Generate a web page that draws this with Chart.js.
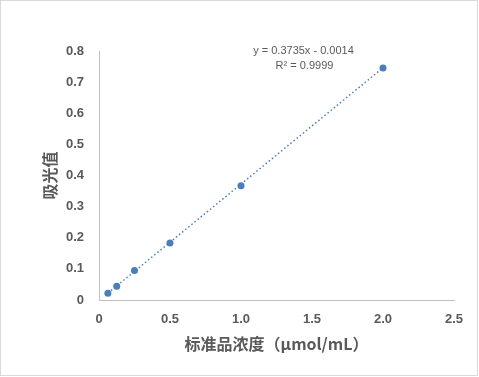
<!DOCTYPE html>
<html>
<head>
<meta charset="utf-8">
<script src="https://cdn.jsdelivr.net/npm/chart.js@4/dist/chart.umd.min.js"></script>
<style>
  html, body { margin: 0; padding: 0; background: #fff; }
  #wrap { width: 479px; height: 377px; position: relative; }
</style>
</head>
<body>
<div id="wrap"><canvas id="c" width="479" height="377"></canvas></div>
<script>
// Data
const concentrations = [0.0625, 0.125, 0.25, 0.5, 1, 2];
const absorbances = [0.022, 0.044, 0.095, 0.183, 0.367, 0.745];
const trendX = [0.0625, 2];
const trendY = [0.022, 0.746];
const equationText = ['y = 0.3735x - 0.0014', 'R² = 0.9999'];
const xTitle = '标准品浓度（μmol/mL）';
const yTitle = '吸光值';

const points = concentrations.map((x, i) => ({ x: x, y: absorbances[i] }));
const trend = trendX.map((x, i) => ({ x: x, y: trendY[i] }));

const textColor = '#595959';
const axisColor = '#bfbfbf';
const blue = '#4a7ebb';

const extras = {
  id: 'extras',
  afterDraw(chart) {
    const ctx = chart.ctx;
    ctx.save();
    ctx.strokeStyle = '#d9d9d9';
    ctx.lineWidth = 1;
    ctx.strokeRect(0.5, 0.5, 477, 375);
    // trendline equation label
    const xs = chart.scales.x, ys = chart.scales.y;
    const cx = xs.getPixelForValue(1.44);
    const cy = ys.getPixelForValue(0.8);
    ctx.fillStyle = textColor;
    ctx.font = '11px "Liberation Sans", Arial, sans-serif';
    ctx.textAlign = 'center';
    ctx.textBaseline = 'middle';
    ctx.fillText(equationText[0], cx, cy);
    ctx.fillText(equationText[1], cx + 1, cy + 15);
    ctx.restore();
  }
};

new Chart(document.getElementById('c'), {
  type: 'scatter',
  data: {
    datasets: [
      {
        label: 'trend',
        type: 'line',
        data: trend,
        borderColor: blue,
        borderWidth: 1.5,
        borderDash: [1.5, 2.5],
        pointRadius: 0,
        fill: false,
        order: 2
      },
      {
        label: 'data',
        data: points,
        backgroundColor: blue,
        borderColor: blue,
        pointRadius: 3.5,
        pointBorderWidth: 0,
        order: 1
      }
    ]
  },
  options: {
    responsive: false,
    animation: false,
    devicePixelRatio: 1,
    layout: { padding: { left: 0, top: 51, right: 25, bottom: 0 } },
    plugins: { legend: { display: false }, tooltip: { enabled: false } },
    scales: {
      x: {
        type: 'linear',
        min: 0, max: 2.5,
        ticks: {
          stepSize: 0.5,
          color: textColor,
          padding: 12,
          maxRotation: 0,
          font: { family: '"Liberation Sans", Arial, sans-serif', size: 13, weight: 'bold' }
        },
        grid: { display: false, drawTicks: false },
        border: { display: true, color: axisColor, width: 1 },
        title: {
          display: true,
          text: xTitle,
          color: textColor,
          padding: { top: 0, bottom: 23 },
          font: { family: '"Noto Sans CJK SC", sans-serif', size: 16, weight: 'bold' }
        },
        afterFit(scale) { scale.height = 77; }
      },
      y: {
        type: 'linear',
        min: 0, max: 0.8,
        ticks: {
          stepSize: 0.1,
          color: textColor,
          padding: 15,
          font: { family: '"Liberation Sans", Arial, sans-serif', size: 13, weight: 'bold' }
        },
        grid: { display: false, drawTicks: false },
        border: { display: true, color: axisColor, width: 1 },
        title: {
          display: true,
          text: yTitle,
          color: textColor,
          padding: { top: 40, bottom: 0 },
          font: { family: '"Noto Sans CJK SC", sans-serif', size: 16, weight: 'bold' }
        },
        afterFit(scale) { scale.width = 99; }
      }
    }
  },
  plugins: [extras]
});
</script>
</body>
</html>
